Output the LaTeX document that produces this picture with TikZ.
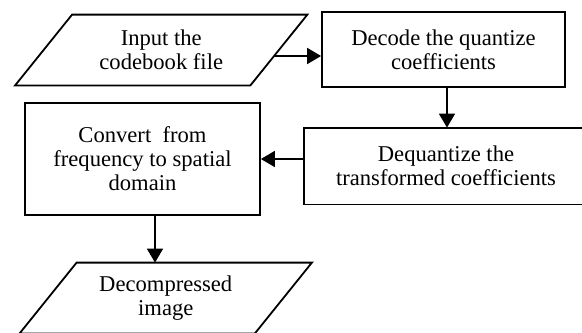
\documentclass[tikz,border=0pt]{standalone}
\usepackage{fontspec}
\setmainfont{Liberation Serif}
\usetikzlibrary{shapes.geometric, arrows.meta, positioning, calc}

\begin{document}
\begin{tikzpicture}[x=0.5pt, y=-0.5pt]
        \tikzstyle{txt} = [font=\fontsize{11.3}{12}\selectfont, align=center, text centered, inner sep=0pt]
        \tikzstyle{box} = [txt, rectangle, draw=black, line width=0.9pt]
        \tikzstyle{io} = [txt, rectangle, minimum width=117.25pt, minimum height=35pt]
        \tikzstyle{line} = [line width=0.9pt, black, line join=miter]
        \tikzstyle{arrow} = [-{Triangle[length=7pt, width=8pt]}, line width=0.9pt, black]

        \useasboundingbox (0,0) rectangle (582,332);

        % Input side
        \node[io] (input) at (161.25,50) {Input the\\codebook file};
        \draw[line] ([xshift=14.25pt]input.north west) -- ([xshift=14.25pt]input.north east) -- ([xshift=-14.25pt]input.south east) -- ([xshift=-14.25pt]input.south west) -- cycle;
        \node[box, minimum width=121.5pt, minimum height=37.5pt] (decode) at (443.5,49.5) {Decode the quantize\\coefficients};

        % Inverse transform (runs off the right edge)
        \node[txt, minimum width=142pt, minimum height=38pt] (dequant) at (446,166) {Dequantize the\\transformed coefficients};
        \draw[line] (dequant.north east) -- (dequant.north west) -- (dequant.south west) -- (dequant.south east);
        \node[box, minimum width=117.5pt, minimum height=56pt] (convert) at (142.5,159) {Convert\ \ from\\frequency to spatial\\domain};

        % Output
        \node[io] (output) at (165.75,298) {Decompressed\\image};
        \draw[line] ([xshift=14.25pt]output.north west) -- ([xshift=14.25pt]output.north east) -- ([xshift=-14.25pt]output.south east) -- ([xshift=-14.25pt]output.south west) -- cycle;

        \coordinate (inout) at ([shift={(-4.9,6)}]input.east);
        \draw[arrow] (inout) -- (inout -| decode.west);
        \draw[arrow] ([xshift=1.75pt]decode.south) -- ([xshift=1.75pt]decode.south |- dequant.north);
        \draw[arrow] (dequant.west |- convert.east) -- (convert.east);
        \draw[arrow] ([xshift=6.25pt]convert.south) -- ([xshift=6.25pt]convert.south |- output.north);
    \end{tikzpicture}
\end{document}
